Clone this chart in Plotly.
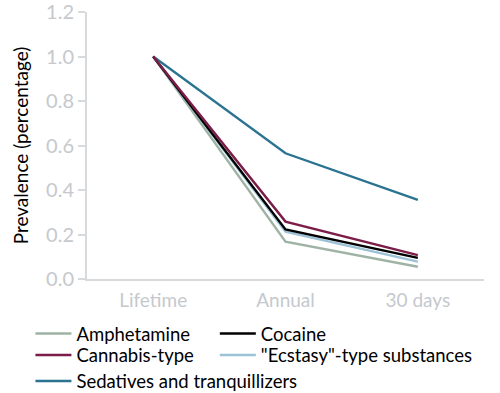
import plotly.graph_objects as go

categories = ["Lifetime", "Annual", "30 days"]
series_names = ["Amphetamine", "Cocaine", "Cannabis-type", "\"Ecstasy\"-type substances", "Sedatives and tranquillizers"]
amphetamine = [1.0, 0.168, 0.055]
cocaine = [1.0, 0.223, 0.095]
cannabis = [1.0, 0.258, 0.107]
ecstasy = [1.0, 0.213, 0.078]
sedatives = [1.0, 0.565, 0.356]
colors = ["#9fb3a5", "#000000", "#7b1d48", "#9cc2d8", "#2a7391"]

values = [amphetamine, cocaine, cannabis, ecstasy, sedatives]
legend_ids = ["legend", "legend2", "legend3", "legend4", "legend5"]
# legend entry placement (paper coords): column x, row y
legend_x = [-0.1425, 0.322, -0.1425, 0.322, -0.1425]
legend_y = [-0.1348, -0.1348, -0.2154, -0.2154, -0.3127]

fig = go.Figure()
draw_order = [4, 0, 3, 1, 2]
for i in draw_order:
    fig.add_trace(go.Scatter(x=categories, y=values[i], name=series_names[i], mode="lines",
                             line=dict(color=colors[i], width=2.4), legend=legend_ids[i]))

gray = "#d6dadd"
tickgray = "#c5c9cd"
legend_common = dict(orientation="v", yanchor="top", xanchor="left",
                     font=dict(size=18.5, color="#000"), itemwidth=36,
                     bgcolor="rgba(0,0,0,0)")
legends = {}
for i, lid in enumerate(legend_ids):
    legends[lid] = dict(x=legend_x[i], y=legend_y[i], **legend_common)

fig.update_layout(
    width=500, height=393,
    margin=dict(l=87, r=16, t=12, b=114, autoexpand=False),
    plot_bgcolor="white", paper_bgcolor="white",
    font=dict(family="Lato, Carlito, Calibri, sans-serif", size=18, color="#000"),
    xaxis=dict(range=[-0.5, 2.5], showgrid=False, showline=True, linecolor=gray, linewidth=2,
               ticks="outside", ticklen=3, tickcolor="rgba(0,0,0,0)",
               tickfont=dict(color=tickgray, size=19), zeroline=False, automargin=False),
    yaxis=dict(range=[0, 1.2], dtick=0.2, tickformat=".1f", showgrid=False, showline=True,
               linecolor=gray, linewidth=2, ticks="outside", ticklen=7, tickcolor=gray, tickwidth=2,
               tickfont=dict(color=tickgray, size=20), zeroline=False, automargin=False,
               ticklabeloverflow="allow",
               title=dict(text="Prevalence (percentage)", font=dict(size=19, color="#000"), standoff=12)),
    showlegend=True,
    **legends,
)
fig.write_html("out.html", config={"displayModeBar": False},
               post_script="document.body.style.margin='0px';")
